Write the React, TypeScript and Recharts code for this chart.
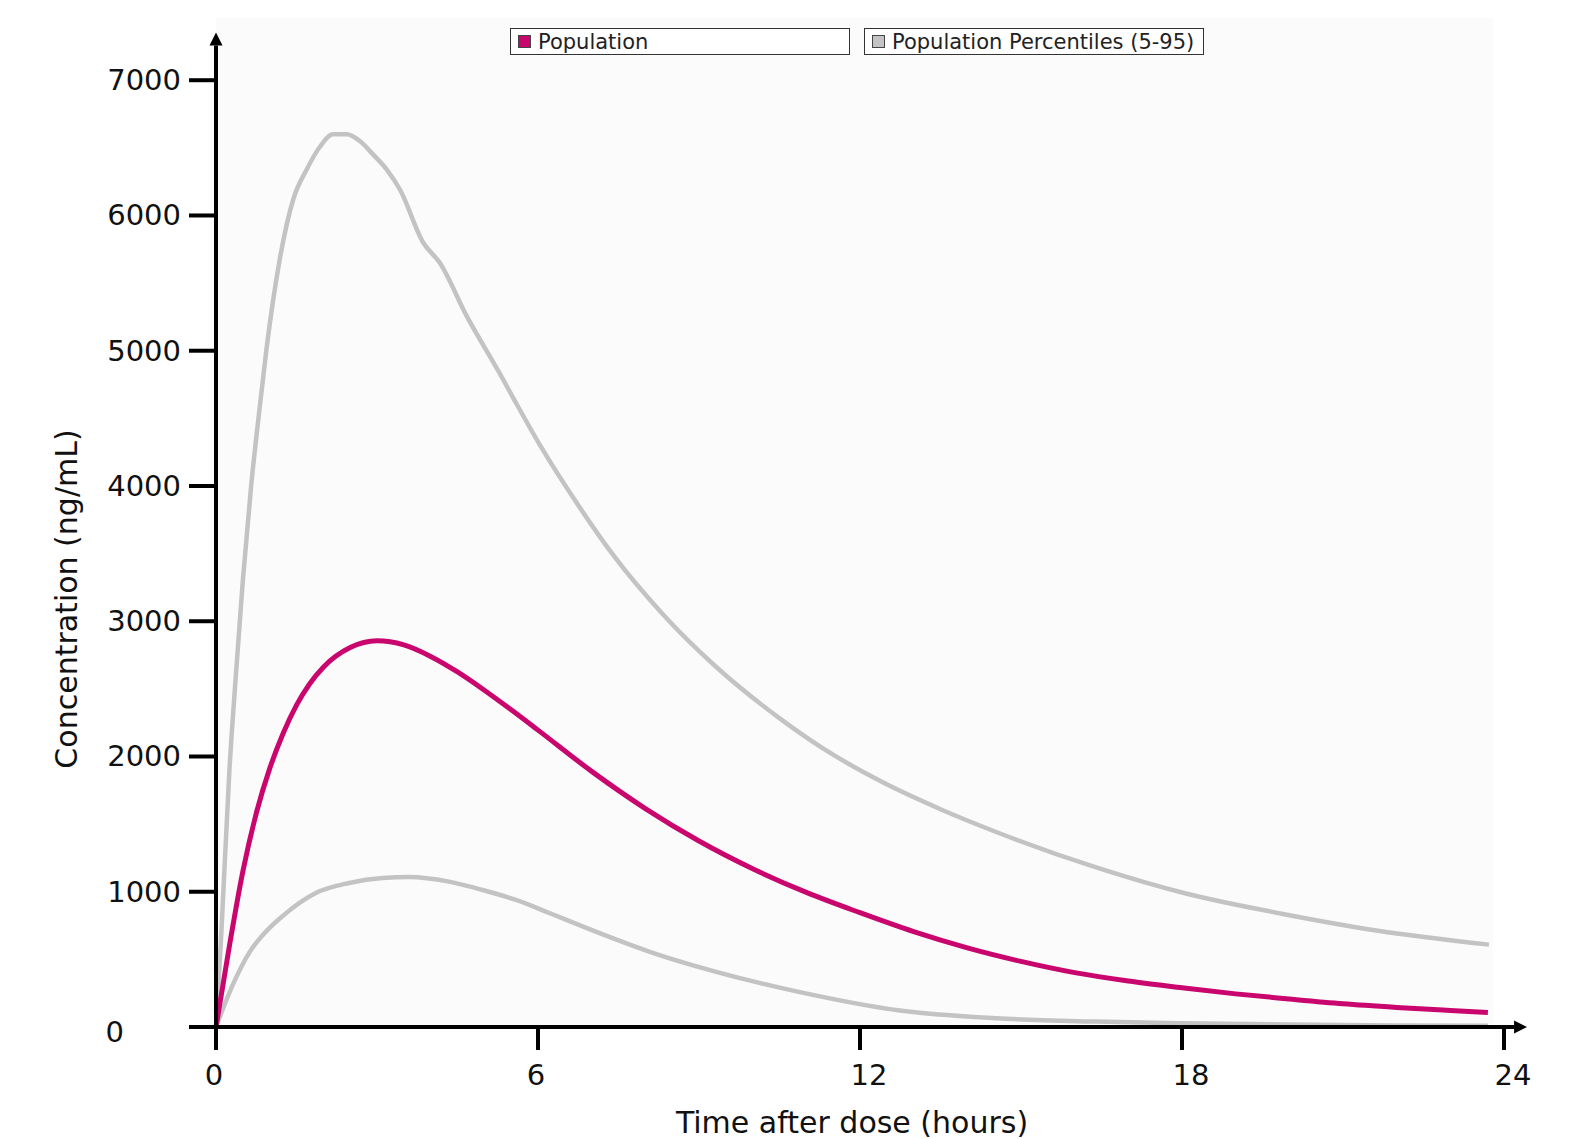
import { LineChart, Line, XAxis, YAxis, ReferenceArea, ReferenceLine } from 'recharts';

// time after dose (h) / concentration (ng/mL)
const popHours = [0, 0.25, 0.5, 0.75, 1, 1.25, 1.5, 1.75, 2, 2.5, 3, 3.5, 4, 4.5, 5, 5.5, 6, 7, 8, 9, 10, 11, 12, 13, 14, 15, 16, 17, 18, 19, 20, 21, 22, 23, 23.7];
const popConc = [0, 600, 1150, 1580, 1910, 2170, 2380, 2540, 2660, 2805, 2855, 2825, 2740, 2625, 2490, 2345, 2195, 1890, 1615, 1375, 1170, 995, 845, 705, 585, 485, 402, 340, 290, 245, 207, 172, 145, 122, 107];

const p95Hours = [0, 0.1, 0.25, 0.37, 0.5, 0.65, 0.82, 0.94, 1.19, 1.44, 1.69, 1.94, 2.18, 2.44, 2.68, 2.93, 3.2, 3.43, 3.86, 4.17, 4.68, 5.29, 5.54, 6.04, 6.78, 7.4, 8.33, 9.27, 10.51, 11.31, 12.37, 13.5, 14.55, 16.4, 18.09, 19.88, 21.65, 23.72];
const p95Conc = [0, 700, 1900, 2600, 3300, 3980, 4600, 5010, 5680, 6120, 6340, 6510, 6600, 6600, 6550, 6450, 6330, 6190, 5800, 5650, 5250, 4830, 4650, 4300, 3840, 3490, 3050, 2680, 2280, 2060, 1820, 1610, 1440, 1180, 985, 836, 712, 609];

const p5Hours = [0, 0.31, 0.62, 0.93, 1.24, 1.86, 2.48, 3.1, 3.6, 4.34, 4.97, 5.59, 6.21, 6.84, 7.45, 8.07, 8.7, 9.32, 10.88, 12.74, 14.55, 16.4, 18, 20, 22, 23.7];
const p5Conc = [0, 310, 550, 705, 820, 991, 1065, 1102, 1109, 1075, 1013, 939, 843, 742, 648, 558, 478, 408, 258, 122, 64, 40, 28, 18, 12, 9];

const xTicks = [0, 6, 12, 18, 24];
const yTicks = [0, 1000, 2000, 3000, 4000, 5000, 6000, 7000];

const POP_COLOR = '#c8066d';
const PCT_COLOR = '#c3c3c3';
const FONT = '"DejaVu Sans", Verdana, sans-serif';

const legendItems = [
  { label: 'Population', color: POP_COLOR },
  { label: 'Population Percentiles (5-95)', color: PCT_COLOR },
];

const toPoints = (hours: number[], conc: number[]) => hours.map((t, i) => ({ t, c: conc[i] }));

const popData = toPoints(popHours, popConc);
const p95Data = toPoints(p95Hours, p95Conc);
const p5Data = toPoints(p5Hours, p5Conc);

function ArrowAxis(props: any) {
  const { x1, y1, x2, y2 } = props;
  const len = Math.hypot(x2 - x1, y2 - y1);
  const ux = (x2 - x1) / len;
  const uy = (y2 - y1) / len;
  const head = 13;
  const half = 6.5;
  const bx = x2 - ux * head;
  const by = y2 - uy * head;
  return (
    <g>
      <line x1={x1} y1={y1} x2={bx} y2={by} stroke="#000" strokeWidth={4} />
      <polygon
        points={`${x2},${y2} ${bx - uy * half},${by + ux * half} ${bx + uy * half},${by - ux * half}`}
        fill="#000"
      />
    </g>
  );
}

function XTick({ x, y, payload }: any) {
  const shift = String(payload.value).length > 1 ? 9 : -2;
  return (
    <text x={x + shift} y={y + 20} textAnchor="middle" fontSize={29} fontFamily={FONT} fill="#111">
      {payload.value}
    </text>
  );
}

function YTick({ x, y, payload }: any) {
  const zero = payload.value === 0;
  return (
    <text
      x={zero ? x - 57 : x}
      y={(zero ? y + 5 : y) + 10}
      textAnchor="end"
      fontSize={29}
      fontFamily={FONT}
      fill="#111"
    >
      {payload.value}
    </text>
  );
}

function Legend() {
  return (
    <div style={{ position: 'absolute', left: 510, top: 28, display: 'flex', gap: 14 }}>
      {legendItems.map((item) => (
        <div
          key={item.label}
          style={{
            boxSizing: 'border-box',
            width: 340,
            height: 27,
            border: '1.5px solid #333',
            background: '#fff',
            display: 'flex',
            alignItems: 'center',
            paddingLeft: 7,
            fontFamily: FONT,
            fontSize: 21,
            color: '#222',
            whiteSpace: 'nowrap',
          }}
        >
          <span
            style={{
              display: 'inline-block',
              width: 11,
              height: 11,
              background: item.color,
              border: '1px solid #444',
              marginRight: 7,
            }}
          />
          {item.label}
        </div>
      ))}
    </div>
  );
}

export default function App() {
  return (
    <div style={{ position: 'absolute', left: 0, top: 0, width: 1591, height: 1139, background: '#fff' }}>
      <LineChart width={1591} height={1139} margin={{ top: 18, right: 87, left: 96, bottom: 22 }}>
        <ReferenceArea x1={0} x2={23.8} y1={0} y2={7460} fill="#fbfbfb" fillOpacity={1} stroke="none" ifOverflow="visible" />
        <XAxis
          type="number"
          dataKey="t"
          domain={[0, 24]}
          ticks={xTicks}
          height={90}
          axisLine={false}
          tickLine={{ stroke: '#000', strokeWidth: 4 }}
          tickSize={23}
          tickMargin={15}
          tick={<XTick />}
          label={() => (
            <text x={852} y={1133} textAnchor="middle" fontSize={30} fontFamily={FONT} fill="#111">
              Time after dose (hours)
            </text>
          )}
        />
        <YAxis
          type="number"
          domain={[0, 7460]}
          ticks={yTicks}
          width={120}
          axisLine={false}
          tickLine={{ stroke: '#000', strokeWidth: 4 }}
          tickSize={27}
          tickMargin={8}
          tick={<YTick />}
          label={() => (
            <text
              x={66}
              y={599}
              transform="rotate(-90, 66, 599)"
              textAnchor="middle"
              dominantBaseline="central"
              fontSize={30}
              fontFamily={FONT}
              fill="#111"
            >
              Concentration (ng/mL)
            </text>
          )}
        />
        <Line data={p95Data} dataKey="c" type="monotone" stroke={PCT_COLOR} strokeWidth={4.5} dot={false} isAnimationActive={false} />
        <Line data={p5Data} dataKey="c" type="monotone" stroke={PCT_COLOR} strokeWidth={4.5} dot={false} isAnimationActive={false} />
        <Line data={popData} dataKey="c" type="monotone" stroke={POP_COLOR} strokeWidth={5} dot={false} isAnimationActive={false} />
        <ReferenceLine
          segment={[{ x: -0.5, y: 0 }, { x: 24.43, y: 0 }]}
          ifOverflow="visible"
          shape={(p: any) => <ArrowAxis {...p} />}
        />
        <ReferenceLine
          segment={[{ x: 0, y: 0 }, { x: 0, y: 7352 }]}
          ifOverflow="visible"
          shape={(p: any) => <ArrowAxis {...p} />}
        />
      </LineChart>
      <Legend />
    </div>
  );
}
